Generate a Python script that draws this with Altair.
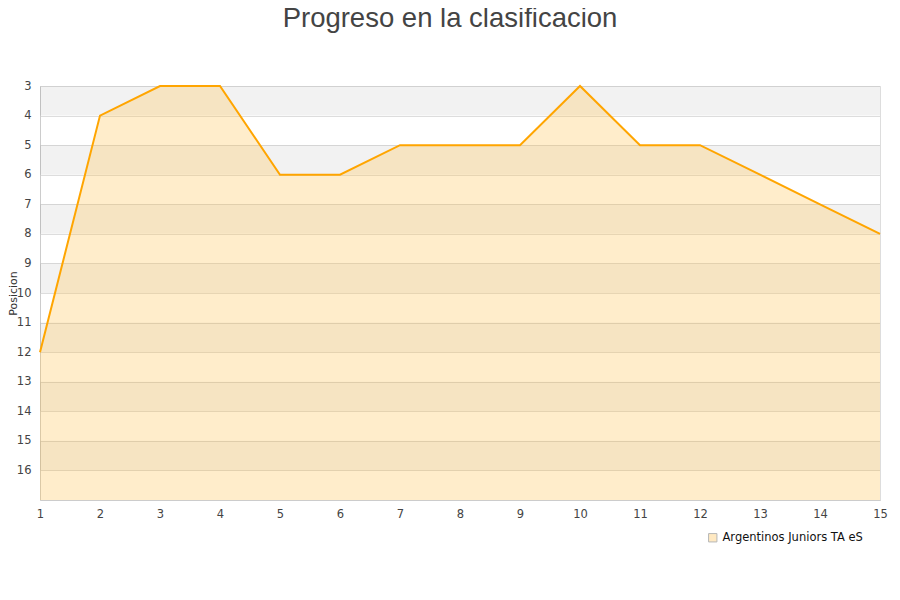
import altair as alt
import pandas as pd

rounds = list(range(1, 16))
positions = [12, 4, 3, 3, 6, 6, 5, 5, 5, 3, 5, 5, 6, 7, 8]
team = "Argentinos Juniors TA eS"
band_starts = [3, 5, 7, 9, 11, 13, 15]
y_ticks = list(range(3, 17))

df = pd.DataFrame({"jornada": rounds, "pos": positions, "base": [17] * len(rounds), "equipo": [team] * len(rounds)})
bands = pd.DataFrame({"y1": band_starts, "y2": [b + 1 for b in band_starts]})

xscale = alt.Scale(domain=[1, 15], nice=False, zero=False)
yscale = alt.Scale(domain=[3, 17], reverse=True, nice=False, zero=False)

xaxis = alt.Axis(values=rounds, title=None, grid=False, ticks=False, labelPadding=8,
                 labelFontSize=11.5, labelColor="#444", domainColor="#ccc", format="d",
                 labelOverlap=False, labelFlush=False)
yaxis = alt.Axis(values=y_ticks, title="Posicion", grid=True, gridColor="#ddd", ticks=False,
                 labelPadding=9, labelFontSize=11.5, labelColor="#444", domainColor="#ccc",
                 titleFontSize=11, titleFontWeight="normal", titleColor="#333",
                 titleX=-24, titleY=207, titleAngle=270, titleBaseline="alphabetic", titleAlign="center",
                 format="d", labelOverlap=False, labelFlush=False)

band_layer = alt.Chart(bands).mark_rect(color="#000000", opacity=0.05).encode(
    y=alt.Y("y1:Q", scale=yscale, axis=yaxis),
    y2="y2:Q",
    x=alt.value(0),
    x2=alt.value(840),
)

area = alt.Chart(df).mark_area(fillOpacity=0.3, line=False).encode(
    x=alt.X("jornada:Q", scale=xscale, axis=xaxis),
    y=alt.Y("pos:Q", scale=yscale, axis=yaxis),
    y2="base:Q",
    color=alt.Color("equipo:N", scale=alt.Scale(domain=[team], range=["#FFC352"]),
                    legend=alt.Legend(title=None, orient="none", legendX=667, legendY=446,
                                      symbolType="square", symbolSize=70, symbolStrokeColor="#333",
                                      symbolStrokeWidth=1, symbolOpacity=0.35, labelFontSize=11.5,
                                      labelColor="#111", labelFont="DejaVu Sans")),
)

line = alt.Chart(df).mark_line(color="#FFA500", strokeWidth=2).encode(
    x=alt.X("jornada:Q", scale=xscale, axis=xaxis),
    y=alt.Y("pos:Q", scale=yscale, axis=yaxis),
)

chart = alt.layer(band_layer, area, line).properties(
    width=840,
    height=414,
    title=alt.TitleParams("Progreso en la clasificacion", fontSize=27.5, fontWeight="normal",
                          color="#444", anchor="middle", offset=48, dx=-10, font="Liberation Sans"),
    padding={"left": 32, "top": 78, "right": 12, "bottom": 92},
    autosize=alt.AutoSizeParams(type="none"),
).configure_view(stroke="#ddd").configure_axis(
    labelFont="DejaVu Sans", titleFont="DejaVu Sans"
).configure_axisY(labelOverlap=False)

chart.save("out.html", embed_options={"renderer": "svg", "actions": False})
